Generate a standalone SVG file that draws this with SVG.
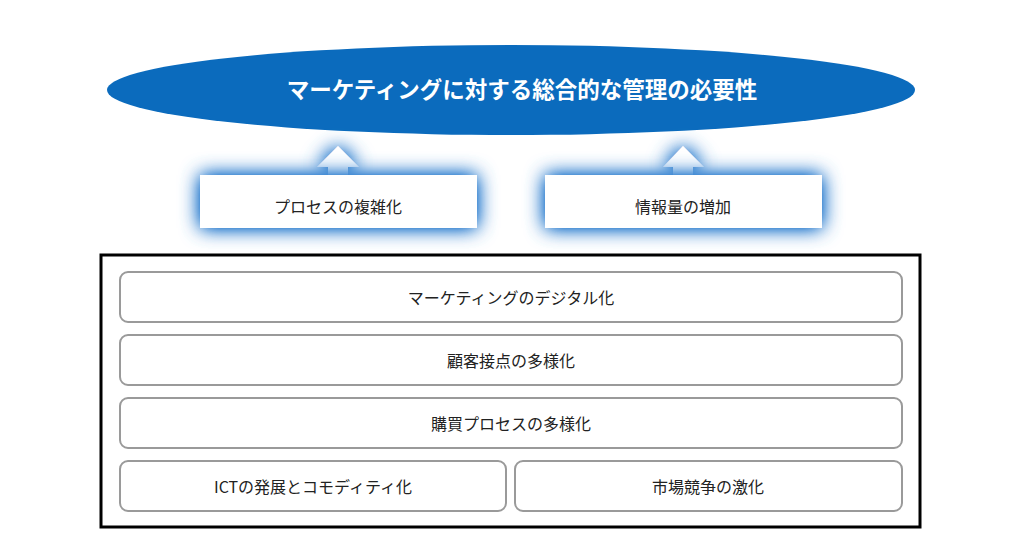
<svg xmlns="http://www.w3.org/2000/svg" width="1030" height="552" viewBox="0 0 1030 552">
<defs>
<filter id="glow" x="-20%" y="-60%" width="140%" height="220%">
<feGaussianBlur in="SourceAlpha" stdDeviation="10" result="b"/>
<feComponentTransfer in="b" result="b2"><feFuncA type="linear" slope="1.8"/></feComponentTransfer>
<feFlood flood-color="#3a86d2" flood-opacity="1"/>
<feComposite in2="b2" operator="in" result="g"/>
<feMerge><feMergeNode in="g"/><feMergeNode in="SourceGraphic"/></feMerge>
</filter>
</defs>
<style>
text{font-family:"Noto Sans CJK JP","Liberation Sans",sans-serif;text-anchor:middle;}
.t{font-size:16px;fill:#222;}
.row{fill:#fff;stroke:#9a9a9a;stroke-width:2;}
.up{fill:#fff;}
</style>
<rect width="1030" height="552" fill="#fff"/>
<g id="goal">
<ellipse cx="511" cy="90" rx="404" ry="45" fill="#0b6bbd"/>
<text x="522" y="98" style="font-size:22.5px;font-weight:bold;fill:#fff">マーケティングに対する総合的な管理の必要性</text>
</g>
<g id="connectors">
<g filter="url(#glow)">
<path class="up" d="M338,146 L359,167 L348,167 L348,176 L328,176 L328,167 L317,167 Z"/>
<path class="up" d="M683,146 L704,167 L693,167 L693,176 L673,176 L673,167 L663,167 Z"/>
</g>
</g>
<g id="process">
<rect x="200" y="175" width="277" height="53" fill="#fff" filter="url(#glow)"/>
<text class="t" x="338" y="213">プロセスの複雑化</text>
</g>
<g id="info">
<rect x="545" y="175" width="277" height="53" fill="#fff" filter="url(#glow)"/>
<text class="t" x="683" y="213">情報量の増加</text>
</g>
<g id="frame">
<rect x="101" y="255" width="819" height="272" fill="#fff" stroke="#000" stroke-width="3"/>
</g>
<g id="digital">
<rect class="row" x="120" y="272" width="782" height="50" rx="8"/>
<text class="t" x="511" y="304">マーケティングのデジタル化</text>
</g>
<g id="touchpoint">
<rect class="row" x="120" y="335" width="782" height="50" rx="8"/>
<text class="t" x="511" y="367">顧客接点の多様化</text>
</g>
<g id="purchase">
<rect class="row" x="120" y="398" width="782" height="50" rx="8"/>
<text class="t" x="511" y="430">購買プロセスの多様化</text>
</g>
<g id="ict">
<rect class="row" x="120" y="461" width="386" height="50" rx="8"/>
<text class="t" x="313" y="493">ICTの発展とコモディティ化</text>
</g>
<g id="competition">
<rect class="row" x="515" y="461" width="387" height="50" rx="8"/>
<text class="t" x="708" y="493">市場競争の激化</text>
</g>
</svg>
